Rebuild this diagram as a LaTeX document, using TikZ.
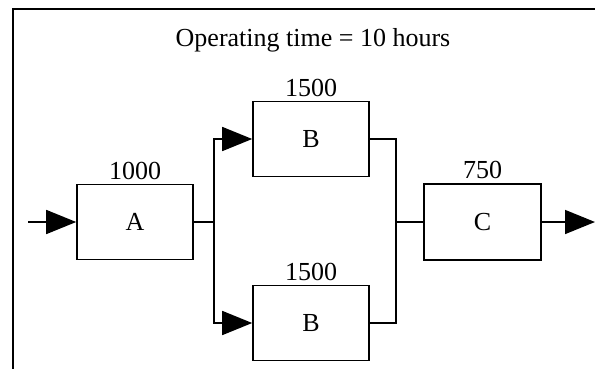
\documentclass[tikz,border=0pt]{standalone}
\usepackage{fontspec}
\setmainfont{Liberation Serif}
\usetikzlibrary{positioning}
\usetikzlibrary{arrows.meta}
\def\boxWidth{116pt}
\def\boxHeight{75pt}
\def\labelFont{\fontsize{26}{30}\selectfont}
\tikzset{% reliability block styles
  block/.style = {draw, rectangle, line width=1.6pt, minimum width=\boxWidth,
    minimum height=\boxHeight, inner sep=0, font=\labelFont},
  rate/.style  = {label={[inner sep=4pt, font=\labelFont]above:#1}},
  flow/.style  = {line width=1.6pt},
}
\begin{document}
\begin{tikzpicture}[x=1pt, y=-1pt, >={Triangle[length=30pt, width=24pt]}]
      \useasboundingbox (0,0) rectangle (595,368);
      \clip (0,0) rectangle (595,368);
      \fill[white] (0,0) rectangle (595,368);

      % outer frame
      \draw[line width=1.6pt] (13,9) rectangle (640,420);
      \node[font=\labelFont] (Title) at (313,40) {Operating time = 10 hours};

      % blocks
      \node[block, rate=1000] (A) at (135,222) {A};
      \node[block, rate=1500] (Btop) at (311,139) {B};
      \node[block, rate=1500] (Bbot) at (311,323) {B};
      \node[block, rate=750, minimum width=117pt, minimum height=76pt] (C) at (482.5,222) {C};

      % split and join points
      \coordinate (in) at (28,222);
      \coordinate (out) at (595,222);

      \draw[flow, ->] (in) -- (A.west);
      \draw[flow] (A.east) -- ++(20,0) coordinate (split);
      \draw[flow] (C.west) -- ++(-27,0) coordinate (join);
      \draw[flow, ->] (split) |- (Btop.west);
      \draw[flow, ->] (split) |- (Bbot.west);
      \draw[flow] (Btop.east) -| (join);
      \draw[flow] (Bbot.east) -| (join);
      \draw[flow, ->] (C.east) -- (out);
\end{tikzpicture}
\end{document}
